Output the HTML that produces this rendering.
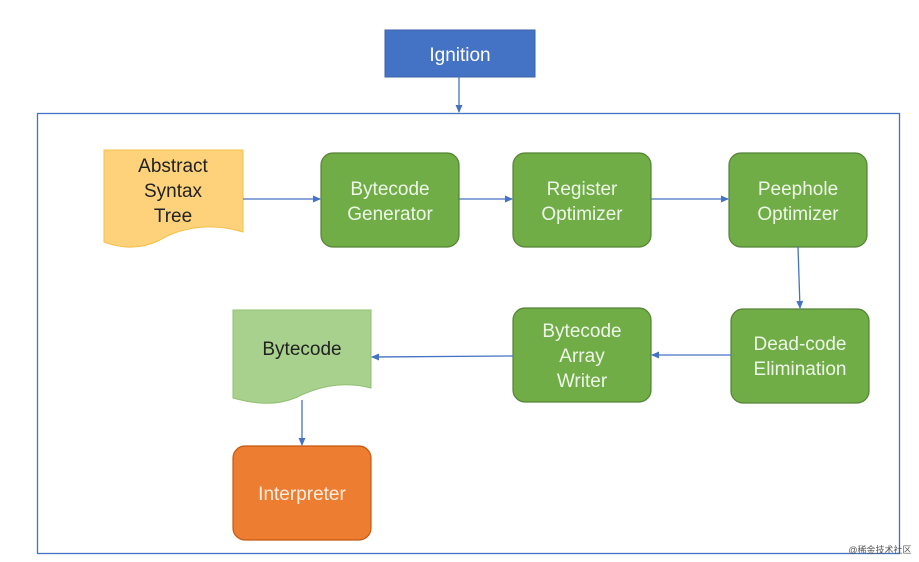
<!DOCTYPE html>
<html><head><style>
body{margin:0;background:#fff;}
svg{display:block;font-family:"Liberation Sans","Noto Sans CJK SC",sans-serif;}
</style></head><body>
<svg width="919" height="562" viewBox="0 0 919 562">
<defs><marker id="a" markerWidth="8" markerHeight="8" refX="7" refY="4" orient="auto" markerUnits="userSpaceOnUse"><path d="M0,0.5 L8,4 L0,7.5z" fill="#4472c4"/></marker></defs>
<rect x="385" y="30" width="150" height="47" fill="#4472c4" stroke="#3a62a8"/>
<text x="460" y="61" font-size="19" fill="#fff" text-anchor="middle">Ignition</text>
<line x1="459" y1="77" x2="459" y2="112" stroke="#4472c4" stroke-width="1.3" marker-end="url(#a)"/>
<rect x="37.5" y="113.5" width="862" height="440" fill="none" stroke="#4472c4" stroke-width="1.3"/>
<path d="M104,150 H243 V232 C210,222 180,228 160,240 C140,250 120,248 104,242 Z" fill="#fdd27a" stroke="#f5c04a"/>
<g font-size="19" fill="#222" text-anchor="middle"><text x="173" y="172">Abstract</text><text x="173" y="197">Syntax</text><text x="173" y="222">Tree</text></g>
<g fill="#70ad47" stroke="#548235" stroke-width="1.2">
<rect x="321" y="153" width="138" height="94" rx="12"/>
<rect x="513" y="153" width="138" height="94" rx="12"/>
<rect x="729" y="153" width="138" height="94" rx="12"/>
<rect x="731" y="309" width="138" height="94" rx="12"/>
<rect x="513" y="308" width="138" height="94" rx="12"/>
</g>
<rect x="233" y="446" width="138" height="94" rx="12" fill="#ed7d31" stroke="#c55a11" stroke-width="1.2"/>
<path d="M233,310 H371 V388 C340,380 315,388 295,398 C275,406 255,404 233,398 Z" fill="#a9d18e" stroke="#8fbf70"/>
<g font-size="19" fill="#eef6e8" text-anchor="middle">
<text x="390" y="195">Bytecode</text><text x="390" y="220">Generator</text>
<text x="582" y="195">Register</text><text x="582" y="220">Optimizer</text>
<text x="798" y="195">Peephole</text><text x="798" y="220">Optimizer</text>
<text x="800" y="350">Dead-code</text><text x="800" y="375">Elimination</text>
<text x="582" y="337">Bytecode</text><text x="582" y="362">Array</text><text x="582" y="387">Writer</text>
<text x="302" y="500" fill="#fdeee0">Interpreter</text>
</g>
<text x="302" y="355" font-size="19" fill="#222" text-anchor="middle">Bytecode</text>
<g stroke="#4472c4" stroke-width="1.3" marker-end="url(#a)">
<line x1="243" y1="199" x2="320" y2="199"/>
<line x1="459" y1="199" x2="512" y2="199"/>
<line x1="651" y1="199" x2="728" y2="199"/>
<line x1="798" y1="247" x2="800" y2="308"/>
<line x1="731" y1="355" x2="652" y2="355"/>
<line x1="513" y1="356" x2="372" y2="357"/>
<line x1="302" y1="400" x2="302" y2="445"/>
</g>
<text x="880" y="553" font-size="9" fill="#555" text-anchor="middle">@稀金技术社区</text>
</svg>
</body></html>
